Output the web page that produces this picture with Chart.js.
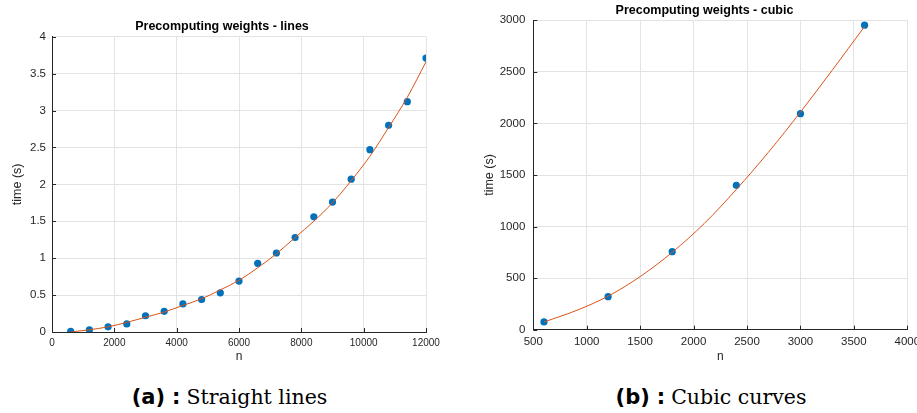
<!DOCTYPE html>
<html><head><meta charset="utf-8">
<script src="https://cdn.jsdelivr.net/npm/chart.js@4.4.1/dist/chart.umd.min.js"></script>
<style>
html,body{margin:0;padding:0;width:917px;height:413px;overflow:hidden;background:#fff;}
#chartA{position:absolute;left:0;top:0;}
#chartB{position:absolute;left:470px;top:0;}
.cap{position:absolute;top:385px;white-space:nowrap;line-height:24px;color:#000;transform:translateX(-50%);}
.cap b{font-family:"DejaVu Sans","Liberation Sans",sans-serif;font-weight:bold;font-size:21px;}
.cap b.c{margin-left:7px;}
.cap span{font-family:"DejaVu Serif","Liberation Serif",serif;font-size:20.5px;margin-left:6px;}
</style></head><body>
<canvas id="chartA" width="444" height="370"></canvas>
<canvas id="chartB" width="469" height="370"></canvas>
<div class="cap" style="left:229.5px"><b>(a)</b><b class="c">:</b><span>Straight lines</span></div>
<div class="cap" style="left:711px"><b>(b)</b><b class="c">:</b><span>Cubic curves</span></div>
<script>
// ---- Data: (a) straight lines ----
const nA = [600,1200,1800,2400,3000,3600,4200,4800,5400,6000,6600,7200,7800,8400,9000,9600,10200,10800,11400,12000];
const timeA = [0.01,0.03,0.07,0.11,0.22,0.28,0.38,0.44,0.53,0.69,0.93,1.07,1.28,1.56,1.76,2.07,2.47,2.80,3.12,3.71];
const fitNA = [600,1200,1800,2400,3000,3600,4200,4800,5400,6000,6600,7200,7800,8400,9000,9600,10200,10800,11400,12000];
const fitA = [0.00,0.03,0.07,0.13,0.20,0.27,0.36,0.45,0.57,0.70,0.87,1.06,1.28,1.50,1.75,2.05,2.38,2.77,3.18,3.66];
const xTicksA = [0,2000,4000,6000,8000,10000,12000];
const yTicksA = [0,0.5,1,1.5,2,2.5,3,3.5,4];

// ---- Data: (b) cubic curves ----
const nB = [600,1200,1800,2400,3000,3600];
const timeB = [75,320,757,1400,2095,2953];
const fitNB = [600,900,1200,1500,1800,2100,2400,2700,3000,3300,3600];
const fitB = [75,185,325,515,750,1030,1360,1720,2110,2520,2940];
const xTicksB = [500,1000,1500,2000,2500,3000,3500,4000];
const yTicksB = [0,500,1000,1500,2000,2500,3000];

const titleA = 'Precomputing weights - lines';
const titleB = 'Precomputing weights - cubic';

const AX = '#262626';
const GRID = '#e3e3e3';
const BLUE = '#0072BD';
const ORANGE = '#D95319';
const FONT = '"Liberation Sans", Arial, Helvetica, sans-serif';

const innerTicks = {
  id: 'innerTicks',
  afterDatasetsDraw(chart) {
    const {ctx, chartArea: a, scales: {x, y}} = chart;
    ctx.save();
    ctx.strokeStyle = AX; ctx.lineWidth = 1;
    ctx.beginPath();
    x.ticks.forEach(t => { const p = Math.round(x.getPixelForValue(t.value)) + 0.5; ctx.moveTo(p, a.bottom); ctx.lineTo(p, a.bottom - 4); });
    y.ticks.forEach(t => { const p = Math.round(y.getPixelForValue(t.value)) + 0.5; ctx.moveTo(a.left, p); ctx.lineTo(a.left + 4, p); });
    ctx.stroke();
    ctx.restore();
  }
};

function pts(xs, ys) { return xs.map((v, i) => ({x: v, y: ys[i]})); }

function makeChart(id, cfg) {
  return new Chart(document.getElementById(id), {
    type: 'scatter',
    data: {
      datasets: [
        {data: pts(cfg.n, cfg.t), backgroundColor: BLUE, borderColor: BLUE, pointRadius: 3.6, pointBorderWidth: 0, showLine: false, order: 2},
        {data: pts(cfg.fn, cfg.ft), borderColor: ORANGE, borderWidth: 1, pointRadius: 0, showLine: true, cubicInterpolationMode: 'monotone', fill: false, order: 1}
      ]
    },
    options: {
      responsive: false,
      animation: false,
      events: [],
      layout: {padding: 0},
      plugins: {
        legend: {display: false},
        tooltip: {enabled: false},
        title: {display: true, text: cfg.title, color: '#000', font: {family: FONT, size: 12.5, weight: 'bold'}, padding: {top: cfg.tPadT, bottom: cfg.tPadB}}
      },
      scales: {
        x: {
          type: 'linear', min: cfg.xMin, max: cfg.xMax,
          afterBuildTicks: s => { s.ticks = cfg.xTicks.map(v => ({value: v})); },
          afterFit: s => { s.height = cfg.xH; s.paddingLeft = 0; s.paddingRight = cfg.padR; },
          grid: {color: GRID, drawTicks: false},
          border: {color: AX, width: 1},
          ticks: {color: AX, padding: cfg.xPad, font: {family: FONT, size: cfg.xFont}, maxRotation: 0, autoSkip: false, callback: v => String(v)},
          title: {display: true, text: 'n', color: AX, font: {family: FONT, size: 12}, padding: {top: 0, bottom: cfg.xTitleB}}
        },
        y: {
          type: 'linear', min: cfg.yMin, max: cfg.yMax,
          afterBuildTicks: s => { s.ticks = cfg.yTicks.map(v => ({value: v})); },
          afterFit: s => { s.width = cfg.yW; },
          grid: {color: GRID, drawTicks: false},
          border: {color: AX, width: 1},
          ticks: {color: AX, padding: cfg.yPad, font: {family: FONT, size: 11.5}, autoSkip: false, callback: v => String(v)},
          title: {display: true, text: 'time (s)', color: AX, font: {family: FONT, size: 12.5}, padding: {top: cfg.yTitleT, bottom: 0}}
        }
      }
    },
    plugins: [innerTicks]
  });
}

makeChart('chartA', {
  n: nA, t: timeA, fn: fitNA, ft: fitA, title: titleA,
  xMin: 0, xMax: 12000, yMin: 0, yMax: 4, xTicks: xTicksA, yTicks: yTicksA,
  padR: 18, tPadT: 19.2, tPadB: 2.5, xH: 38, xPad: 5.5, xFont: 10, xTitleB: 5.8,
  yW: 52, yPad: 6, yTitleT: 10.5
});
makeChart('chartB', {
  n: nB, t: timeB, fn: fitNB, ft: fitB, title: titleB,
  xMin: 500, xMax: 4000, yMin: 0, yMax: 3000, xTicks: xTicksB, yTicks: yTicksB,
  padR: 31.7, tPadT: 3.5, tPadB: 1.8, xH: 40.3, xPad: 5.4, xFont: 11.5, xTitleB: 5.8,
  yW: 63.3, yPad: 8, yTitleT: 12.5
});
</script>
</body></html>
